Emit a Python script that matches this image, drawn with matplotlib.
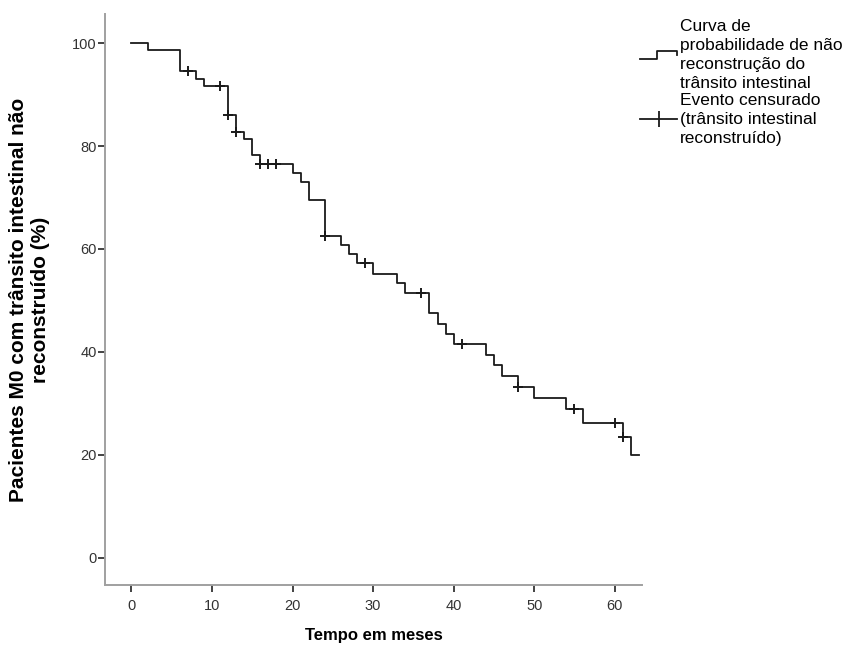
import numpy as np
import matplotlib
matplotlib.use("Agg")
import matplotlib.pyplot as plt
from matplotlib.lines import Line2D
from matplotlib.legend_handler import HandlerBase

plt.rcParams['font.family'] = ['Liberation Sans', 'DejaVu Sans']

# curva de Kaplan-Meier (tempo em meses, % sem reconstrução)
tempos = [0, 2, 6, 8, 9, 12, 13, 14, 15, 16, 20, 21, 22, 24, 26, 27, 28, 30,
          33, 34, 37, 38, 39, 40, 44, 45, 46, 48, 50, 54, 56, 61, 62]
sobrevida = [100, 98.7, 94.6, 93.1, 91.7, 86.0, 82.8, 81.3, 78.2, 76.6, 74.8,
             73.1, 69.6, 62.6, 60.8, 59.0, 57.2, 55.2, 53.4, 51.5, 47.5, 45.4,
             43.4, 41.5, 39.5, 37.4, 35.3, 33.2, 31.1, 28.9, 26.2, 23.4, 19.9]
tempo_final = 63
censurados = [7, 11, 12, 13, 16, 17, 18, 24, 29, 36, 41, 48, 55, 60, 61]

x = tempos + [tempo_final]
y = sobrevida + [sobrevida[-1]]
idx = np.searchsorted(tempos, censurados, side='right') - 1
cens_y = [sobrevida[i] for i in idx]


class StepHandler(HandlerBase):
    def create_artists(self, legend, orig_handle, xdescent, ydescent,
                       width, height, fontsize, trans):
        w, h = width, height
        xs = [-xdescent, -xdescent + 0.45 * w, -xdescent + 0.45 * w,
              -xdescent + w, -xdescent + w]
        ys = [0.15 * h, 0.15 * h, 0.85 * h, 0.85 * h, 0.55 * h]
        ln = Line2D(xs, ys, color=orig_handle.get_color(),
                    linewidth=orig_handle.get_linewidth(), transform=trans)
        return [ln]


fig = plt.figure(figsize=(8.46, 6.48), dpi=100)
ax = fig.add_axes([0.124, 0.097, 0.635, 0.881])

cor = '#1a1a1a'
curva, = ax.step(x, y, where='post', color=cor, linewidth=1.3)
ax.plot(censurados, cens_y, linestyle='none', marker='+',
        markersize=6.5, markeredgewidth=1.4, color=cor)

ax.set_xlim(-3.3, 63.4)
ax.set_ylim(-5.3, 105.6)
ax.set_xticks([0, 10, 20, 30, 40, 50, 60])
ax.set_yticks([0, 20, 40, 60, 80, 100])
ax.tick_params(direction='out', length=5, width=1.2, color='#222222',
               labelcolor='#333333', labelsize=10.5)
ax.tick_params(axis='x', pad=5)
ax.tick_params(axis='y', pad=1)
for s in ['top', 'right']:
    ax.spines[s].set_visible(False)
for s in ['left', 'bottom']:
    ax.spines[s].set_color('#a0a0a0')
    ax.spines[s].set_linewidth(1.4)

ax.set_xlabel('Tempo em meses', fontsize=12, fontweight='bold', labelpad=11)
ax.set_ylabel('Pacientes M0 com trânsito intestinal não\nreconstruído (%)',
              fontsize=15, fontweight='bold', labelpad=16, linespacing=1.2)

cens_handle = Line2D([], [], color=cor, linewidth=1.3, marker='|',
                     markersize=12, markeredgewidth=1.3)
leg = fig.legend([curva, cens_handle],
                 ['Curva de\nprobabilidade de não\nreconstrução do\ntrânsito intestinal',
                  'Evento censurado\n(trânsito intestinal\nreconstruído)'],
                 handler_map={curva: StepHandler()}, numpoints=1,
                 loc='upper left', bbox_to_anchor=(0.757, 0.970), frameon=False,
                 fontsize=12.5, handlelength=2.1, handletextpad=0.2,
                 labelspacing=0.12, borderaxespad=0, borderpad=0)
for t in leg.get_texts():
    t.set_linespacing(1.32)

fig.savefig('out.png', dpi=100)
